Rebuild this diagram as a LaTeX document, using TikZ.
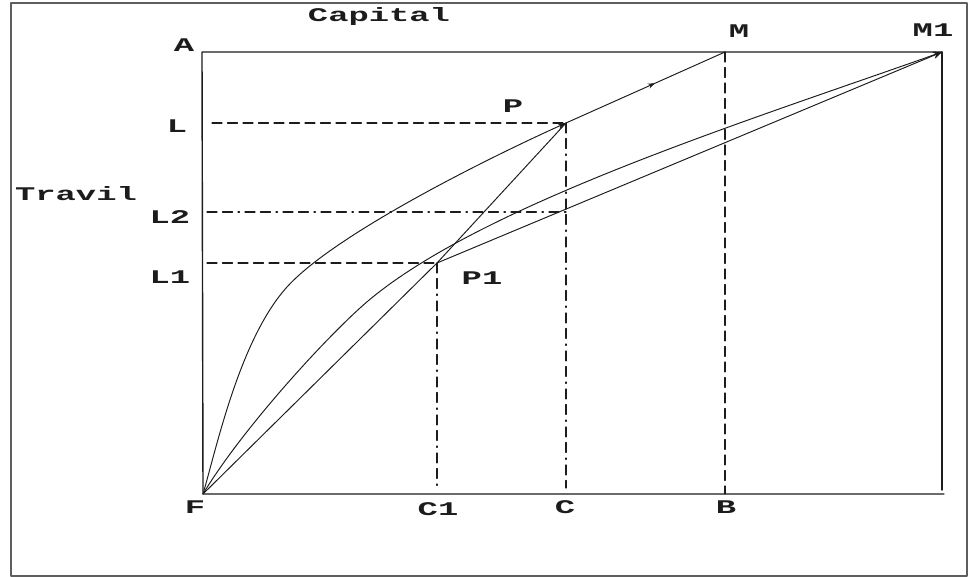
\documentclass[tikz,border=0pt]{standalone}
\usepackage{fontspec}
\newfontfamily\lblfont[FakeStretch=1.75]{Liberation Mono}
\usetikzlibrary{calc, arrows.meta, decorations.markings}
\definecolor{ink}{HTML}{1C1C1C}
\definecolor{rim}{HTML}{5E5E5E}
\tikzset{el/.style={line cap=round, line join=round},
  lb/.style={font=\lblfont\bfseries\fontsize{11}{11}\selectfont, inner sep=0pt, text=ink},
  ax/.style={ink, line width=0.8pt},
  cv/.style={ink, line width=0.55pt},
  gd/.style={ink, line width=0.6pt, dash pattern=on 2mm off 1.1mm},
  gdd/.style={ink, line width=0.6pt, dash pattern=on 2mm off 1.1mm on 2mm off 1.1mm on 0.3mm off 1.1mm},
  tp/.style={-{Stealth[length=5pt,width=4pt]}}}

\begin{document}
\begin{tikzpicture}[el, x=0.02cm, y=-0.02cm]
  \useasboundingbox (0,0) rectangle (970,577);
  \draw[rim, line width=0.8pt] (11,3) rectangle (967,576);
  % box corners and points
  \coordinate (A) at (202,52);
  \coordinate (M) at (725,52);
  \coordinate (M1) at (942,52);
  \coordinate (R) at (942,490);
  \coordinate (F) at (203,494);
  \coordinate (E) at (944,494);
  \coordinate (P) at (566,123);
  \coordinate (P1) at (437,263);
  \coordinate (L) at (212,123);
  \coordinate (L2) at (207,212);
  \coordinate (L1) at (207,263);
  \coordinate (Q) at (566,212);
  \coordinate (C1) at (437,488);
  \coordinate (C) at (566,488);
  \coordinate (B) at (725,494);
  \coordinate (K) at (287,287);
  \coordinate (N) at (360,308);
  % axes
  \draw[ax] (M1)--(A)--(F)--(E);
  \draw[ax] (M1)--(R);
  % guides
  \draw[gd] (L)--(P);
  \draw[gdd] (L2)--(Q);
  \draw[gd] (L1)--(P1);
  \draw[gdd] (P1)--(C1);
  \draw[gdd] (P)--(C);
  \draw[gd] (M)--(B);
  % curves and rays
  \draw[cv, tp] (F) .. controls (217,446) and (240,339) .. (K) .. controls (334,235) and (484,160) .. (P);
  \draw[cv, tp] (F) .. controls (239,434) and (316,348) .. (N) .. controls (471,207) and (754,119) .. (M1);
  \draw[cv] (F)--(P1)--(P);
  \draw[cv, tp] (P1)--(M1);
  \draw[cv, postaction={decorate, decoration={markings, mark=at position 0.56 with {\arrow{Stealth[length=4pt,width=3pt]}}}}] (P)--(M);
  % labels
  \node[lb] (tCap) at (379,17) {Capital};
  \node[lb] (tTr) at (76,194) {Travil};
  \node[lb] (tA) at (184,45) {A};
  \node[lb] (tL) at (177,126) {L};
  \node[lb] (tL2) at (170,217) {L2};
  \node[lb] (tL1) at (170,277) {L1};
  \node[lb] (tP) at (513,106) {P};
  \node[lb] (tP1) at (482,278) {P1};
  \node[lb] (tM) at (739,31) {M};
  \node[lb] (tM1) at (933,30) {M1};
  \node[lb] (tF) at (195,507) {F};
  \node[lb] (tC1) at (438,509) {C1};
  \node[lb] (tC) at (565,507) {C};
  \node[lb] (tB) at (726,507) {B};
\end{tikzpicture}
\end{document}
